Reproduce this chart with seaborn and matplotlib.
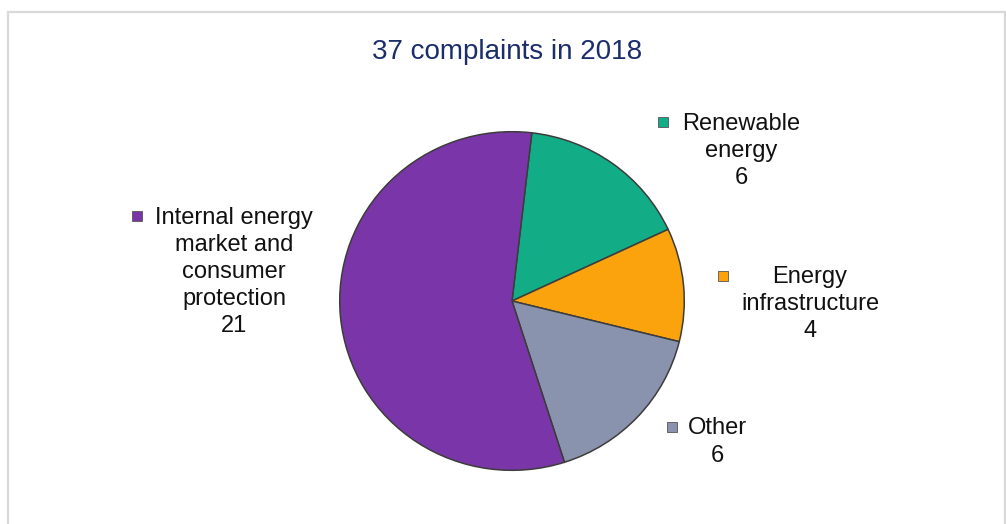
import matplotlib
matplotlib.use("Agg")
import matplotlib.pyplot as plt
import seaborn as sns
from matplotlib.patches import Rectangle
from matplotlib.lines import Line2D

# ---- data ----
categories = ["Renewable\nenergy", "Energy\ninfrastructure", "Other",
              "Internal energy\nmarket and\nconsumer\nprotection"]
values = [6, 4, 6, 21]
colors = ["#12AD86", "#FBA30C", "#8A93AE", "#7A36A8"]
title = "37 complaints in 2018"

sns.set_theme(style="white")
plt.rcParams["font.family"] = ["Liberation Sans", "DejaVu Sans"]

W, H = 1006, 524
fig = plt.figure(figsize=(W / 100, H / 100), dpi=100)
fig.patch.set_facecolor("white")

def fx(px):
    return px / W

def fy(py):
    return 1 - py / H

# chart border
fig.add_artist(Rectangle((fx(8), fy(530)), fx(1005) - fx(8), fy(12) - fy(530),
                         transform=fig.transFigure, fill=False,
                         edgecolor="#D9D9D9", linewidth=1.6))

# pie axes: center (512, 302), radius ~172 px
cx, cy, rx, ry = 512, 301, 174, 171
ax = fig.add_axes([fx(cx - rx), fy(cy + ry), 2 * rx / W, 2 * ry / H])
start = 90 - 6.6
wedges, _ = ax.pie(values, colors=colors, startangle=start, counterclock=False,
                   radius=1.0,
                   wedgeprops=dict(edgecolor="#3C3C3C", linewidth=1.1))
ax.set_xlim(-1.01, 1.01)
ax.set_ylim(-1.01, 1.01)
ax.set_aspect("auto")
ax.axis("off")

# title
fig.text(fx(507), fy(59), title, ha="center", va="baseline",
         fontsize=20, color="#1B2D6B")

# labels: (text center x, block center y, marker x, marker y)
label_layout = [
    (741, 151, 663, 122),
    (810, 304, 723, 276),
    (717, 442, 672, 427),
    (234, 272, 137, 216),
]
for cat, val, col, (tx, ty, mx, my) in zip(categories, values, colors, label_layout):
    fig.text(fx(tx), fy(ty), f"{cat}\n{val}", ha="center", va="center",
             fontsize=17, color="#111111", linespacing=1.3)
    fig.add_artist(Line2D([fx(mx)], [fy(my)], marker="s", markersize=7.5,
                          color=col, markeredgecolor="#555555",
                          markeredgewidth=0.6, transform=fig.transFigure))

fig.savefig("out.png", dpi=100, facecolor="white")
